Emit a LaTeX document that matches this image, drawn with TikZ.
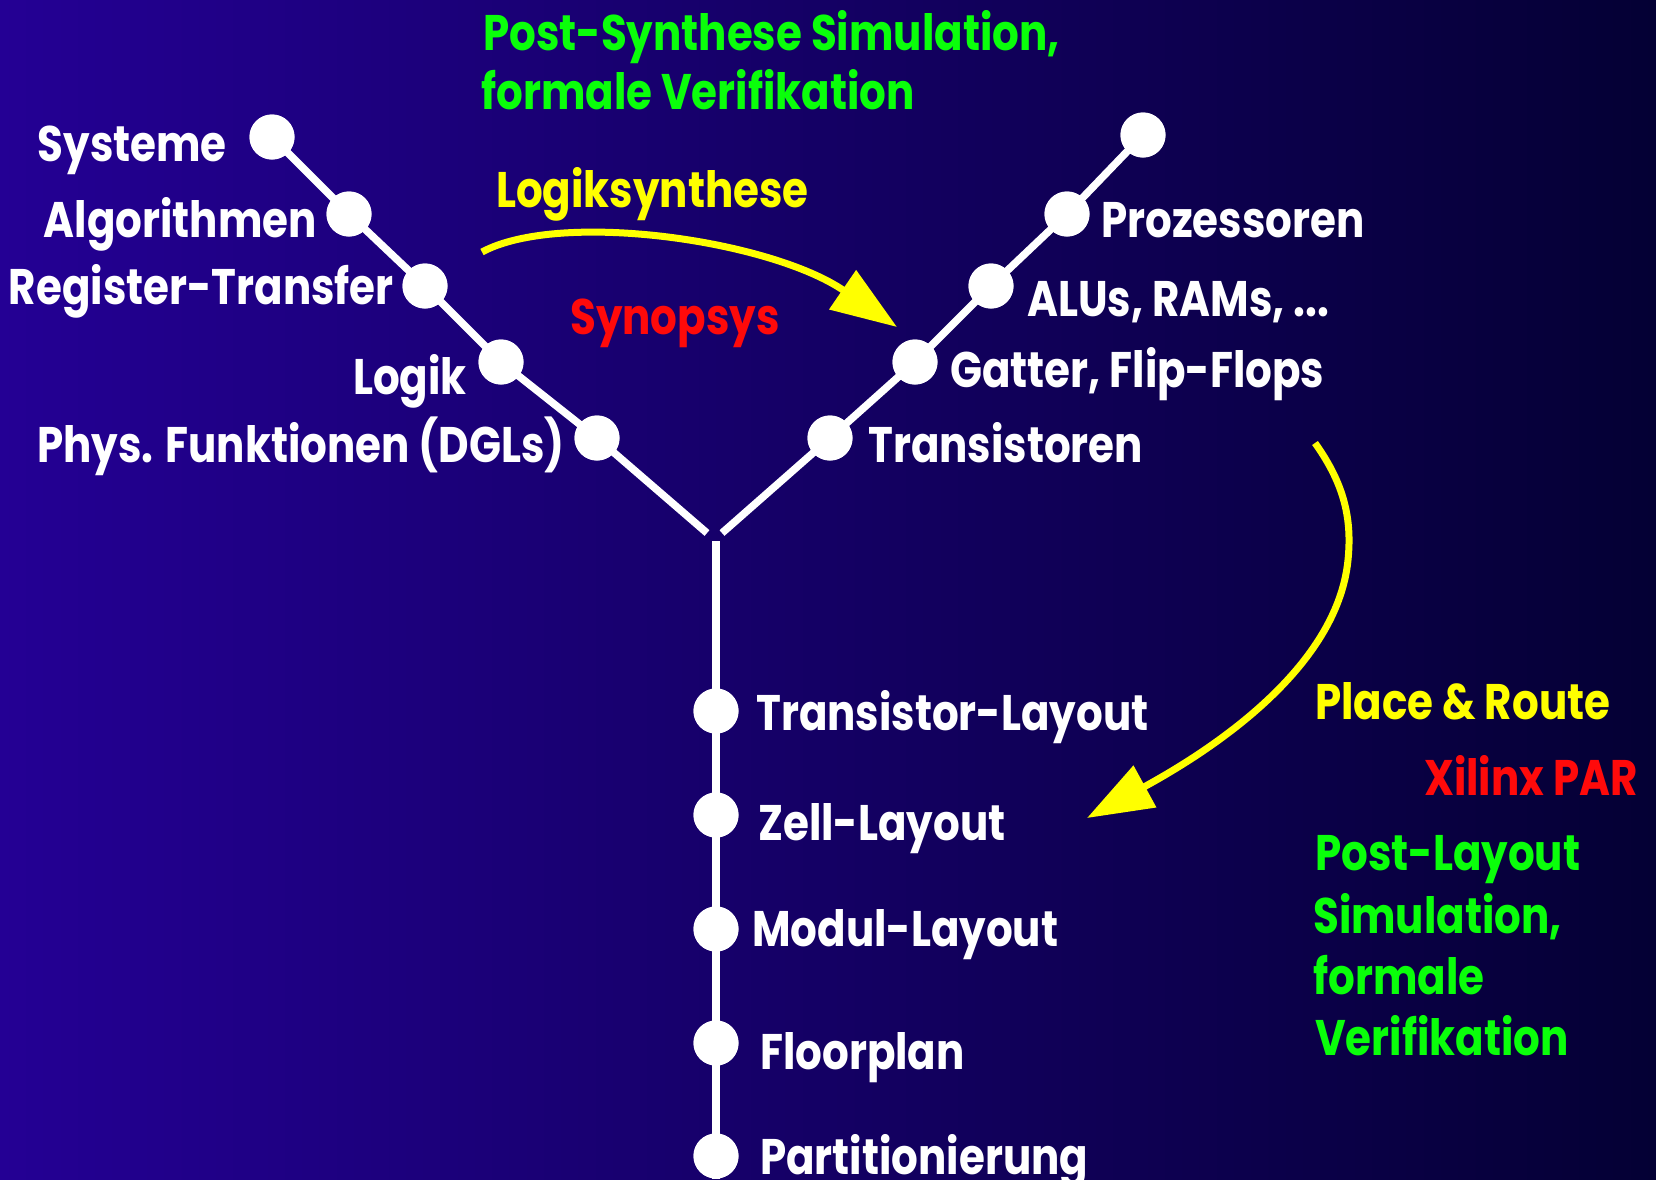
\documentclass[tikz,border=0pt]{standalone}
\usepackage{fontspec}
\setmainfont{Poppins}
\usetikzlibrary{arrows.meta}
\definecolor{bgleft}{RGB}{36,0,148}
\definecolor{bgright}{RGB}{4,0,52}
\definecolor{lblyellow}{RGB}{255,255,0}
\definecolor{lblred}{RGB}{255,10,10}
\definecolor{lblgreen}{RGB}{10,255,10}
% narrow, tall lettering
\newcommand{\narrowtxt}[1]{\scalebox{0.84}[1]{#1}}
\tikzset{
  lbl/.style={inner sep=0pt, font=\fontsize{50}{60}\selectfont\bfseries, text=white},
  dot/.style={circle, fill=white, minimum size=45pt, inner sep=0pt},
  branch/.style={draw=white, line width=7.5pt},
  flowarrow/.style={draw=lblyellow, line width=7pt,
    -{Triangle[length=66pt, width=46pt]}},
}
\begin{document}
\begin{tikzpicture}[x=1pt, y=-1pt]
  % background
  \shade[left color=bgleft, right color=bgright] (0,0) rectangle (1656,1179);
  \useasboundingbox (0,0) rectangle (1656,1179);

  % branch ends and junction points
  \coordinate (jl) at (707,533);
  \coordinate (jr) at (722,533);
  \coordinate (vt) at (716,541);
  \coordinate (vb) at (716,1179);

  % left branch: behavioural domain
  \node[dot] (b1) at (272,137) {};
  \node[dot] (b2) at (349,214) {};
  \node[dot] (b3) at (425,286) {};
  \node[dot] (b4) at (501,362) {};
  \node[dot] (b5) at (597,438) {};
  % right branch: structural domain
  \node[dot] (s0) at (1143,135) {};
  \node[dot] (s1) at (1067,214) {};
  \node[dot] (s2) at (991,286) {};
  \node[dot] (s3) at (915,362) {};
  \node[dot] (s4) at (830,438) {};
  % vertical branch: geometric domain
  \node[dot] (g1) at (716,711) {};
  \node[dot] (g2) at (716,815) {};
  \node[dot] (g3) at (716,929) {};
  \node[dot] (g4) at (716,1043) {};
  \node[dot] (g5) at (716,1156) {};

  \path[branch] (b1.center) -- (b2.center) -- (b3.center) -- (b4.center) -- (b5.center) -- (jl);
  \path[branch] (s0.center) -- (s1.center) -- (s2.center) -- (s3.center) -- (s4.center) -- (jr);
  \path[branch] (vt) -- (vb);
  % redraw dots on top of the lines
  \foreach \d in {b1,b2,b3,b4,b5,s0,s1,s2,s3,s4,g1,g2,g3,g4,g5}
    \fill[white] (\d) circle (22.5pt);

  % left labels
  \node[lbl, anchor=base east] (lb1) at (227,161) {\narrowtxt{Systeme}};
  \node[lbl, anchor=base east] (lb2) at (317,237) {\narrowtxt{Algorithmen}};
  \node[lbl, anchor=base east] (lb3) at (394,304) {\narrowtxt{Register-Transfer}};
  \node[lbl, anchor=base east] (lb4) at (467,394) {\narrowtxt{Logik}};
  \node[lbl, anchor=base east] (lb5) at (565,462) {\narrowtxt{Phys. Funktionen (DGLs)}};
  % right labels
  \node[lbl, anchor=base west] (ls1) at (1101,237) {\narrowtxt{Prozessoren}};
  \node[lbl, anchor=base west] (ls2) at (1027,316) {\narrowtxt{ALUs, RAMs, ...}};
  \node[lbl, anchor=base west] (ls3) at (950,387) {\narrowtxt{Gatter, Flip-Flops}};
  \node[lbl, anchor=base west] (ls4) at (868,462) {\narrowtxt{Transistoren}};
  % geometric labels
  \node[lbl, anchor=base west] (lg1) at (756,730) {\narrowtxt{Transistor-Layout}};
  \node[lbl, anchor=base west] (lg2) at (758,840) {\narrowtxt{Zell-Layout}};
  \node[lbl, anchor=base west] (lg3) at (752,946) {\narrowtxt{Modul-Layout}};
  \node[lbl, anchor=base west] (lg4) at (760,1069) {\narrowtxt{Floorplan}};
  \node[lbl, anchor=base west] (lg5) at (760,1174) {\narrowtxt{Partitionierung}};

  % tool annotations
  \node[lbl, text=lblgreen, anchor=base west] (v1a) at (483,50) {\narrowtxt{Post-Synthese Simulation,}};
  \node[lbl, text=lblgreen, anchor=base west] (v1b) at (481,109) {\narrowtxt{formale Verifikation}};
  \node[lbl, text=lblyellow, anchor=base west] (syn) at (496,207) {\narrowtxt{Logiksynthese}};
  \node[lbl, text=lblred, anchor=base west] (snps) at (570,334) {\narrowtxt{Synopsys}};
  \node[lbl, text=lblyellow, anchor=base west] (par) at (1315,719) {\narrowtxt{Place \& Route}};
  \node[lbl, text=lblred, anchor=base east] (xpar) at (1638,795) {\narrowtxt{Xilinx PAR}};
  \node[lbl, text=lblgreen, anchor=base west] (v2a) at (1315,870) {\narrowtxt{Post-Layout}};
  \node[lbl, text=lblgreen, anchor=base west] (v2b) at (1313,933) {\narrowtxt{Simulation,}};
  \node[lbl, text=lblgreen, anchor=base west] (v2c) at (1313,994) {\narrowtxt{formale}};
  \node[lbl, text=lblgreen, anchor=base west] (v2d) at (1315,1055) {\narrowtxt{Verifikation}};

  % synthesis arrows
  \coordinate (a1s) at (482,252);
  \coordinate (a1e) at (897,327);
  \coordinate (a2s) at (1315,443);
  \coordinate (a2e) at (1087,818);
  \path[flowarrow] (a1s) .. controls (560,210) and (770,240) .. (a1e);
  \path[flowarrow] (a2s) .. controls (1345,485) and (1352,520) .. (1348,560)
                         .. controls (1338,660) and (1230,740) .. (a2e);
\end{tikzpicture}
\end{document}
